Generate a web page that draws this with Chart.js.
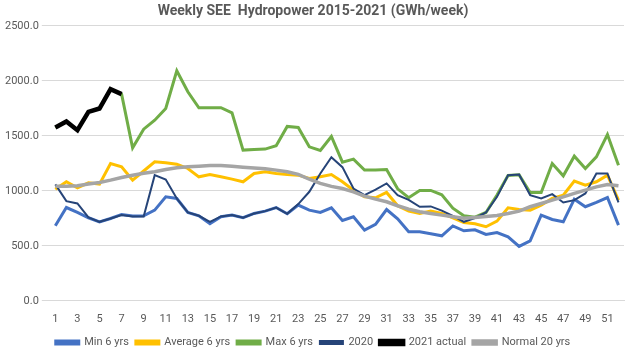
<!DOCTYPE html>
<html>
<head>
<meta charset="utf-8">
<script src="https://cdn.jsdelivr.net/npm/chart.js@4"></script>
<style>
  html, body { margin: 0; padding: 0; background: #ffffff; }
</style>
</head>
<body>
<canvas id="hydroChart" width="628" height="350"></canvas>
<script>
// weeks 1..52
const weeks = [];
for (let i = 1; i <= 52; i++) weeks.push(String(i));

const min6 = [682, 848, 803, 755, 718, 748, 785, 770, 773, 824, 945, 930, 803, 773, 700, 764, 779, 755, 794, 815,
  848, 791, 870, 824, 803, 845, 730, 764, 642, 695, 830, 745, 627, 627, 610, 591, 680, 636, 645, 603,
  621, 582, 495, 545, 779, 739, 718, 924, 855, 894, 939, 688];

const avg6 = [1015, 1082, 1027, 1073, 1061, 1248, 1218, 1097, 1180, 1264, 1255, 1242, 1203, 1127, 1148, 1127, 1106, 1082, 1157, 1172,
  1157, 1148, 1142, 1112, 1127, 1148, 1082, 1006, 945, 936, 985, 864, 815, 794, 815, 794, 755, 712, 700, 673,
  724, 845, 830, 824, 870, 930, 961, 1088, 1052, 1082, 1142, 915];

const max6 = [1576, 1630, 1551, 1718, 1748, 1924, 1879, 1391, 1560, 1642, 1748, 2091, 1900, 1755, 1755, 1755, 1709, 1370, 1376, 1379,
  1409, 1585, 1576, 1400, 1367, 1494, 1260, 1288, 1188, 1188, 1194, 1018, 937, 1003, 1003, 964, 842, 773, 760, 803,
  961, 1139, 1145, 985, 985, 1248, 1136, 1315, 1203, 1309, 1512, 1233];

const y2020 = [1058, 906, 885, 758, 718, 748, 779, 767, 767, 1142, 1103, 930, 803, 773, 718, 767, 779, 755, 794, 815,
  848, 791, 879, 991, 1158, 1306, 1215, 1021, 961, 1010, 1067, 961, 918, 855, 858, 820, 772, 718, 752, 803,
  945, 1142, 1148, 961, 930, 970, 894, 915, 976, 1158, 1158, 894];

const y2021 = [1576, 1630, 1551, 1718, 1748, 1924, 1879];

const normal20 = [1042, 1042, 1045, 1061, 1076, 1097, 1121, 1142, 1160, 1173, 1194, 1209, 1218, 1224, 1230, 1230, 1224, 1215, 1208, 1200,
  1188, 1173, 1150, 1105, 1068, 1040, 1021, 991, 951, 924, 900, 864, 833, 809, 794, 779, 764, 750, 758, 767,
  776, 794, 815, 855, 885, 915, 945, 976, 1006, 1036, 1058, 1045];

// series on the legend, in Excel order (later ones drawn on top)
function serie(label, data, color, width, order) {
  return {
    label: label,
    data: data,
    borderColor: color,
    backgroundColor: color,
    borderWidth: width,
    pointRadius: 0,
    tension: 0,
    fill: false,
    order: order
  };
}

// make the legend box shorter so it sits close to the bottom edge
const shortLegend = {
  id: 'shortLegend',
  beforeInit(chart) {
    const lg = chart.legend;
    if (!lg) return;
    const origFit = lg.fit;
    lg.fit = function () {
      origFit.call(this);
      this.height = 20;
    };
  }
};

const ctx = document.getElementById('hydroChart');
new Chart(ctx, {
  type: 'line',
  data: {
    labels: weeks,
    datasets: [
      serie('Min 6 yrs', min6, '#4472C4', 3, 6),
      serie('Average 6 yrs', avg6, '#FFC000', 3, 5),
      serie('Max 6 yrs', max6, '#70AD47', 3, 4),
      serie('2020', y2020, '#264478', 2, 3),
      serie('2021 actual', y2021, '#000000', 4.5, 2),
      serie('Normal 20 yrs', normal20, '#A5A5A5', 3.5, 1)
    ]
  },
  plugins: [shortLegend],
  options: {
    responsive: false,
    animation: false,
    layout: { padding: { left: 2, right: 4, top: 2, bottom: 0 } },
    plugins: {
      title: {
        display: true,
        text: 'Weekly SEE  Hydropower 2015-2021 (GWh/week)',
        color: '#595959',
        font: { family: 'Roboto', size: 14, weight: 'bold' },
        padding: { top: 1, bottom: 6 }
      },
      legend: {
        position: 'bottom',
        labels: {
          color: '#595959',
          font: { family: 'Roboto', size: 11 },
          boxWidth: 23,
          boxHeight: 3,
          padding: 7,
          sort: (a, b) => a.datasetIndex - b.datasetIndex
        }
      },
      tooltip: { enabled: false }
    },
    scales: {
      x: {
        offset: true,
        grid: { display: false },
        border: { display: true, color: '#D9D9D9' },
        ticks: {
          color: '#595959',
          font: { family: 'Roboto', size: 11 },
          autoSkip: false,
          maxRotation: 0,
          padding: 4,
          callback: function (val, idx) {
            return idx % 2 === 0 ? this.getLabelForValue(val) : '';
          }
        }
      },
      y: {
        min: 0,
        max: 2500,
        ticks: {
          stepSize: 500,
          color: '#595959',
          font: { family: 'Roboto', size: 11 },
          callback: v => v.toFixed(1)
        },
        grid: { color: '#D9D9D9' },
        border: { display: false }
      }
    }
  }
});
</script>
</body>
</html>
